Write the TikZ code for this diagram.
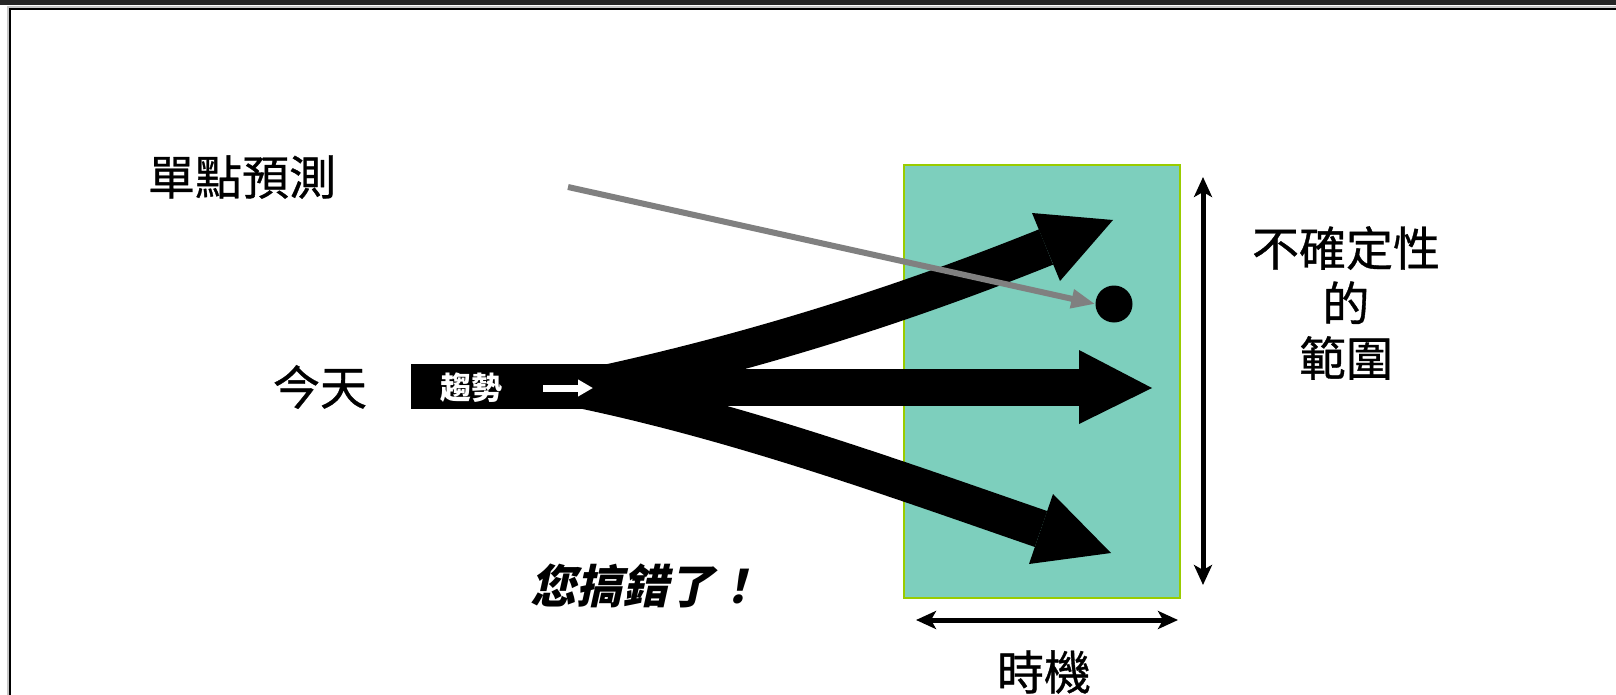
\documentclass[tikz,border=0pt]{standalone}
\usepackage{fontspec}
\newfontfamily\cjk{Noto Sans CJK TC}[FakeBold=0.7]
\newfontfamily\cjkw{Noto Sans CJK TC}
\newfontfamily\cjksl{Noto Sans CJK TC}[FakeSlant=0.22]
\usetikzlibrary{arrows.meta}
\definecolor{teal1}{HTML}{7DCFBD}
\definecolor{lime1}{HTML}{99CC00}
\definecolor{band}{HTML}{262626}
\definecolor{gray1}{HTML}{808080}
\begin{document}
\begin{tikzpicture}[x=1pt,y=-1pt,
  lbl/.style={font=\cjk\fontsize{47}{55}\selectfont, inner sep=0pt, align=center},
  shaft/.style={line width=38pt, line cap=butt},
  dbl/.style={line width=5pt, {Stealth[length=20pt,width=18pt,inset=5pt]}-{Stealth[length=20pt,width=18pt,inset=5pt]}}]
\useasboundingbox (0,0) rectangle (1616,695);
\fill[white] (0,0) rectangle (1616,695);
\fill[band] (0,0) rectangle (1616,5);
\draw[gray!45, line width=1.5pt] (8,695) -- (8,7) -- (1616,7);
\draw[black, line width=2pt] (10,695) -- (10,9.5) -- (1616,9.5);
% range rectangle
\draw[lime1, line width=2pt, fill=teal1] (904,165) rectangle (1180,598);
% trend box and arrows
\node[fill=black, minimum width=209pt, minimum height=45pt, inner sep=0pt, anchor=north west] (trend) at (411,364) {};
\draw[shaft] (575,388) .. controls (740,422) and (899,480) .. (1041,529);
\fill (1111,553) -- (1053,494) -- (1029,564) -- cycle;
\draw[shaft] (605,384) .. controls (760,350) and (907,303) .. (1046,247);
\fill (1113,220) -- (1032,213) -- (1060,281) -- cycle;
\draw[line width=37pt] (600,387) -- (1080,387);
\fill (1152,388) -- (1079,350) -- (1079,424) -- cycle;
\node[font=\cjkw\bfseries\fontsize{31}{36}\selectfont, text=white, inner sep=0pt] (qs) at (471,388) {趨勢};
\coordinate (wa) at (543,388);
\coordinate (wb) at (593,388);
\draw[white, line width=7pt, -{Triangle[length=15pt,width=16pt]}] (wa) -- (wb);
% single point forecast
\node[lbl] (single) at (242,177) {單點預測};
\node[circle, fill=black, minimum size=37pt, inner sep=0pt] (dot) at (1114,304) {};
\coordinate (gs) at (568,187);
\draw[gray1, line width=6pt, -{Triangle[length=24pt,width=18pt]}] (gs) -- (dot.west);
% labels
\node[lbl] (today) at (320,387) {今天};
\node[font=\cjksl\bfseries\fontsize{46}{52}\selectfont, inner sep=0pt] (wrong) at (645,586) {您搞錯了！};
\node[lbl] (unc) at (1346,303) {不確定性\\的\\範圍};
\node[lbl] (time) at (1044,672) {時機};
% dimension arrows
\coordinate (vt) at (1203,177);
\coordinate (vb) at (1203,585);
\draw[dbl] (vt) -- (vb);
\coordinate (hl) at (916,620);
\coordinate (hr) at (1178,620);
\draw[dbl] (hl) -- (hr);
\end{tikzpicture}
\end{document}
